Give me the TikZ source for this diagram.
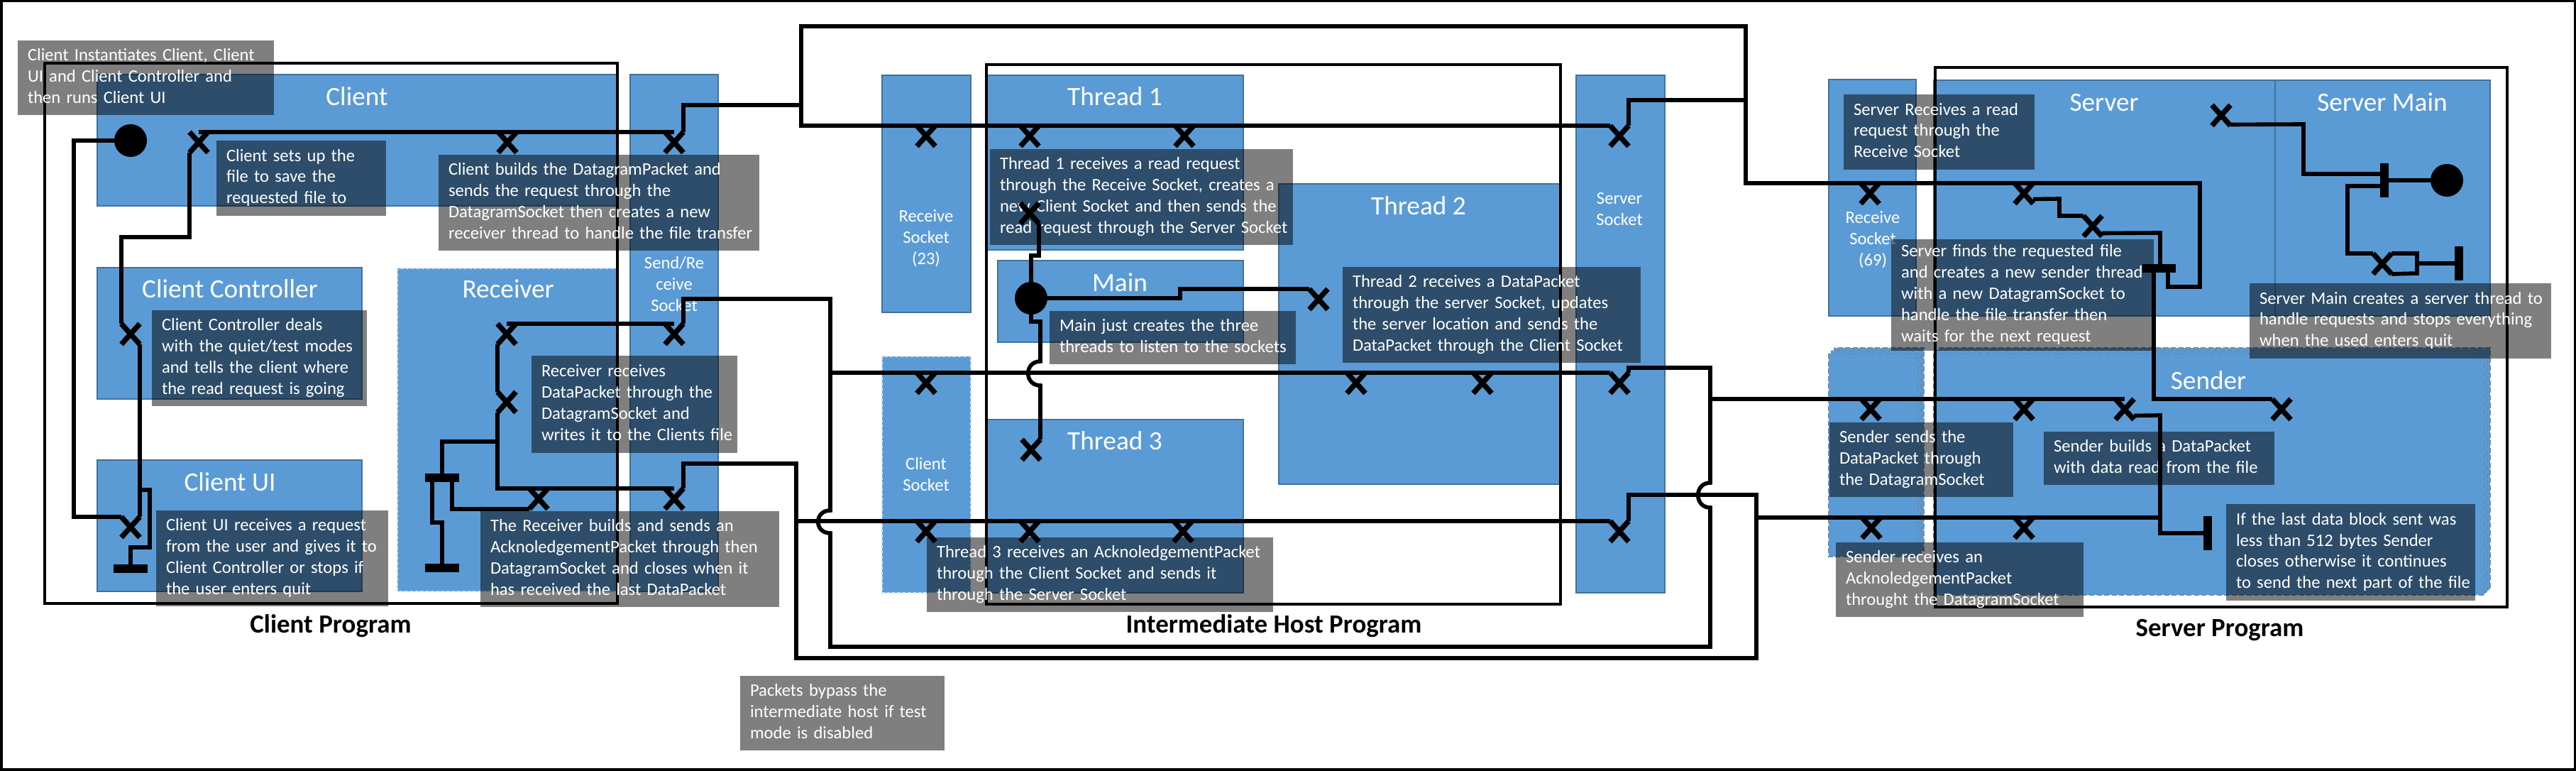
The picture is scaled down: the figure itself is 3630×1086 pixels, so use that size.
\documentclass[tikz,border=0pt]{standalone}
\usepackage{fontspec}
\setmainfont{Carlito}
\usetikzlibrary{calc}
\definecolor{boxblue}{HTML}{5B9BD5}
\definecolor{boxedge}{HTML}{41719C}
\newcommand\tlines[1]{\begin{tabular}{@{}l@{}}#1\end{tabular}}
\begin{document}
\begin{tikzpicture}[x=0.01cm,y=-0.01cm,
 bb/.style={fill=boxblue,draw=boxedge,line width=0.5pt},
 bbd/.style={fill=boxblue,draw=white!70!boxblue,line width=0.5pt,dash pattern=on 1.2pt off 0.9pt},
 bbs/.style={fill=boxblue,draw=boxedge!80!white,line width=0.5pt,dash pattern=on 2pt off 1pt},
 prog/.style={draw=black,line width=1pt},
 ttl/.style={text=white,font=\fontsize{10.6}{12}\selectfont,anchor=base,inner sep=0pt},
 sock/.style={text=white,font=\fontsize{7}{8.5}\selectfont,align=center,inner sep=0pt},
 plab/.style={font=\bfseries\fontsize{10.5}{12}\selectfont,anchor=base,inner sep=0pt},
 desc/.style={fill=black,fill opacity=0.5,text opacity=1,text=white,inner xsep=0.14cm,inner ysep=0pt,outer sep=0pt,anchor=north west,align=left,font=\fontsize{7}{8.5}\selectfont},
 db/.code 2 args={\pgfmathsetmacro\dbw{#1*0.01}\pgfmathsetmacro\dbt{(#1-28)*0.01}\pgfmathsetmacro\dbh{#2*0.01}\pgfkeysalso{minimum width=\dbw cm,text width=\dbt cm,minimum height=\dbh cm}},
 conn/.style={draw=black,line width=1.6pt},
 xs/.style={draw=black,line width=2.1pt},
 xm/.style={minimum width=0.26cm,minimum height=0.29cm,inner sep=0pt,outer sep=0pt,anchor=north,
   append after command={(\tikzlastnode.north west) edge[xs] (\tikzlastnode.south east) (\tikzlastnode.north east) edge[xs] (\tikzlastnode.south west)}},
 hbar/.style={fill=black,minimum width=0.47cm,minimum height=0.12cm,inner sep=0pt,outer sep=0pt},
 vbar/.style={fill=black,minimum width=0.12cm,minimum height=0.47cm,inner sep=0pt,outer sep=0pt},
 st/.style={circle,fill=black,minimum size=0.46cm,inner sep=0pt,outer sep=0pt}]
\useasboundingbox (0,0) rectangle (3630,1086);
\draw[line width=1pt] (1.75,1.75) rectangle (3628.25,1084.25);

% ---- blue boxes
\draw[bb] (137,105) rectangle (870,290);
\draw[bb] (137,377) rectangle (510,562);
\draw[bb] (137,648) rectangle (510,833);
\draw[bbd] (560,378) rectangle (870,833);
\draw[bb] (888,105) rectangle (1012,833);
\draw[bb] (1243,106) rectangle (1368,440);
\draw[bbd] (1243,502) rectangle (1368,835);
\draw[bb] (1390,106) rectangle (1752,352);
\draw[bb] (1406,367) rectangle (1752,482);
\draw[bb] (1802,259) rectangle (2198,682);
\draw[bb] (1390,591) rectangle (1752,835);
\draw[bb] (2221,106) rectangle (2346,835);
\draw[bb] (2577,112) rectangle (2700,445);
\draw[bb] (2725,113) rectangle (3509,445);
\draw[boxedge,line width=0.5pt] (3206,113) -- (3206,445);
\draw[bbs] (2585,490) rectangle (2711,776);
\draw[bbs] (2581,494) rectangle (2707,780);
\draw[bbs] (2577,498) rectangle (2703,784);
\draw[bbs] (2733,490) rectangle (3509,830);
\draw[bbs] (2729,494) rectangle (3505,834);
\draw[bbs] (2725,498) rectangle (3501,838);

% ---- titles
\node[ttl] (tclient) at (503,149) {Client};
\node[ttl] (tcc) at (324,420) {Client Controller};
\node[ttl] (tcui) at (324,692) {Client UI};
\node[ttl] (trecv) at (716,420) {Receiver};
\node[ttl] (tt1) at (1571,149) {Thread 1};
\node[ttl] (tmain) at (1578,411) {Main};
\node[ttl] (tt2) at (1999,303) {Thread 2};
\node[ttl] (tt3) at (1571,634) {Thread 3};
\node[ttl] (tserver) at (2965,157) {Server};
\node[ttl] (tsmain) at (3357,157) {Server Main};
\node[ttl] (tsender) at (3112,549) {Sender};
\node[sock] (lsr) at (950,400) {Send/Re\\ceive\\Socket};
\node[sock] (lrs23) at (1305,336) {Receive\\Socket\\(23)};
\node[sock] (lcs) at (1305,668) {Client\\Socket};
\node[sock] (lss) at (2282,295) {Server\\Socket};
\node[sock] (lrs69) at (2639,338) {Receive\\Socket\\(69)};

% ---- program outlines
\draw[prog] (63,89) rectangle (870,850);
\draw[prog] (1390,91) rectangle (2199,851);
\draw[prog] (2727,95) rectangle (3533,855);
\node[plab] (pc) at (466,892) {Client Program};
\node[plab] (pih) at (1795,892) {Intermediate Host Program};
\node[plab] (ps) at (3128,897) {Server Program};

% ---- description boxes
\node[desc,db={361}{105}] (nci) at (25,57) {\tlines{Client Instantiates Client, Client\\UI and Client Controller and\\then runs Client UI}};
\node[desc,db={239}{106}] (ncsu) at (305,198) {\tlines{Client sets up the\\file to save the\\requested file to}};
\node[desc,db={452}{135}] (ncb) at (618,218) {\tlines{Client builds the DatagramPacket and\\sends the request through the\\DatagramSocket then creates a new\\receiver thread to handle the file transfer}};
\node[desc,db={303}{135}] (ncc) at (214,437) {\tlines{Client Controller deals\\with the quiet/test modes\\and tells the client where\\the read request is going}};
\node[desc,db={327}{135}] (ncui) at (220,719) {\tlines{Client UI receives a request\\from the user and gives it to\\Client Controller or stops if\\the user enters quit}};
\node[desc,db={290}{137}] (nrr) at (749,501) {\tlines{Receiver receives\\DataPacket through the\\DatagramSocket and\\writes it to the Clients file}};
\node[desc,db={421}{135}] (nrb) at (677,720) {\tlines{The Receiver builds and sends an\\AcknoledgementPacket through then\\DatagramSocket and closes when it\\has received the last DataPacket}};
\node[desc,db={427}{135}] (nt1) at (1395,210) {\tlines{Thread 1 receives a read request\\through the Receive Socket, creates a\\new Client Socket and then sends the\\read request through the Server Socket}};
\node[desc,db={347}{75}] (nm) at (1479,438) {\tlines{Main just creates the three\\threads to listen to the sockets}};
\node[desc,db={420}{135}] (nt2) at (1892,376) {\tlines{Thread 2 receives a DataPacket\\through the server Socket, updates\\the server location and sends the\\DataPacket through the Client Socket}};
\node[desc,db={488}{105}] (nt3) at (1306,757) {\tlines{Thread 3 receives an AcknoledgementPacket\\through the Client Socket and sends it\\through the Server Socket}};
\node[desc,db={288}{105}] (npb) at (1043,952) {\tlines{Packets bypass the\\intermediate host if test\\mode is disabled}};
\node[desc,db={269}{106}] (nsr) at (2598,133) {\tlines{Server Receives a read\\request through the\\Receive Socket}};
\node[desc,db={370}{157}] (nsf) at (2665,337) {\tlines{Server finds the requested file\\and creates a new sender thread\\with a new DatagramSocket to\\handle the file transfer then\\waits for the next request}};
\node[desc,db={425}{106}] (nsm) at (3170,399) {\tlines{Server Main creates a server thread to\\handle requests and stops everything\\when the used enters quit}};
\node[desc,db={259}{105}] (nss) at (2578,595) {\tlines{Sender sends the\\DataPacket through\\the DatagramSocket}};
\node[desc,db={325}{75}] (nsb) at (2880,608) {\tlines{Sender builds a DataPacket\\with data read from the file}};
\node[desc,db={351}{136}] (nsl) at (3137,710) {\tlines{If the last data block sent was\\less than 512 bytes Sender\\closes otherwise it continues\\to send the next part of the file}};
\node[desc,db={349}{105}] (nsa) at (2587,764) {\tlines{Sender receives an\\AcknoledgementPacket\\throught the DatagramSocket}};

% ---- X marks, bars, start points
\node[xm] (xc1) at (280,186) {};
\node[xm] (xc2) at (715,186) {};
\node[xm] (xsr1) at (950,186) {};
\node[xm] (xcc) at (184,456) {};
\node[xm] (xcui) at (184,728) {};
\node[xm] (xr1) at (714,456) {};
\node[xm] (xsr2) at (950,456) {};
\node[xm] (xr2) at (714,552) {};
\node[xm] (xr3) at (759,688) {};
\node[xm] (xsr3) at (950,688) {};
\node[xm] (xrs23) at (1305,177) {};
\node[xm] (xt1a) at (1451,177) {};
\node[xm] (xt1b) at (1669,177) {};
\node[xm] (xt1c) at (1451,286) {};
\node[xm] (xss1) at (2282,177) {};
\node[xm] (xt2a) at (1858,407) {};
\node[xm] (xcs1) at (1305,525) {};
\node[xm] (xt2b) at (1911,525) {};
\node[xm] (xt2c) at (2089,525) {};
\node[xm] (xss2) at (2282,525) {};
\node[xm] (xt3a) at (1453,619) {};
\node[xm] (xcs2) at (1305,734) {};
\node[xm] (xt3b) at (1451,734) {};
\node[xm] (xt3c) at (1667,734) {};
\node[xm] (xss3) at (2282,734) {};
\node[xm] (xrs69) at (2635,258) {};
\node[xm] (xs1) at (2852,258) {};
\node[xm] (xs2) at (2949,304) {};
\node[xm] (xsm1) at (3130,148) {};
\node[xm] (xsm2) at (3357,357) {};
\node[xm] (xsd1) at (2636,562) {};
\node[xm] (xsd2) at (2852,562) {};
\node[xm] (xsd3) at (2994,562) {};
\node[xm] (xsst) at (3215,562) {};
\node[xm] (xsd4) at (2637,729) {};
\node[xm] (xsd5) at (2852,729) {};
\node[st] (cstart) at (184,198) {};
\node[hbar] (barcui) at (184,801) {};
\node[hbar] (barr1) at (623,673) {};
\node[hbar] (barr2) at (623,800) {};
\node[st] (mstart) at (1453,420) {};
\node[hbar] (bars) at (3042,378) {};
\node[vbar] (barsm) at (3360,254) {};
\node[st] (smstart) at (3448,254) {};
\node[vbar] (barend) at (3465,371) {};
\node[vbar] (barsd) at (3111,751) {};

% ---- connectors: client
\draw[conn] (cstart.west) -- (104,198) -- (104,728) -- (xcui.north west);
\draw[conn] (xc1.north) -- (xc2.north) -- (xsr1.north);
\draw[conn] (xc1.south west) -- (267,334) -- (171,334) -- (xcc.north west);
\draw[conn] (xcc.south east) -- (xcui.north east);
\coordinate (jcui) at (197,690);
\draw[conn] (jcui) -- (211,690) -- (211,771) -- (184,771) -- (barcui.north);
% receiver
\draw[conn] (xr1.north) -- (xsr2.north);
\draw[conn] (xr1.south west) -- (xr2.north west);
\draw[conn] (xr2.south west) |- (xr3.north) -- (xsr3.north);
\coordinate (jr) at (701,622);
\draw[conn] (jr) -| (barr1.north);
\draw[conn] ($(barr1.south)+(-14,0)$) -- ++(0,57) -- ++(14,0) -- (barr2.north);
\draw[conn] ($(barr1.south)+(14,0)$) |- (xr3.south west);
% data path (A)
\draw[conn] (xsr2.north east) -- (963,421) -- (1170,421) -- (1170,719) .. controls (1147,719) and (1147,751) .. (1170,751) -- (1170,911) -- (2410,911) -- (2410,715) .. controls (2387,715) and (2387,680) .. (2410,680) -- (2410,518) -- (2295,518) -- (xss2.north east);
\coordinate (ja1) at (1170,525);
\draw[conn] (ja1) -- (xcs1.north) -- (xt2b.north) -- (xt2c.north) -- (xss2.north west);
\coordinate (ja2) at (2410,562);
\draw[conn] (ja2) -- (xsd1.north) -- (xsd2.north) -- (xsd3.north);
% ack path (B)
\draw[conn] (xsr3.north east) -- (963,653) -- (1122,653) -- (1122,927) -- (2475,927) -- (2475,697) -- (2295,697) -- (xss3.north east);
\coordinate (jb1) at (1122,734);
\draw[conn] (jb1) -- (xcs2.north) -- (xt3b.north) -- (xt3c.north) -- (xss3.north west);
\coordinate (jb2) at (2475,729);
\draw[conn] (jb2) -- (xsd4.north) -- (xsd5.north) -- (3044,729);
% request path
\draw[conn] (xsr1.north east) -- (963,148) -- (1129,148) -- (1129,37) -- (2460,37) -- (2460,258) -- (xrs69.north) -- (xs1.north) -- (3100,258) -- (3100,404) -- (3055,404) -- ($(bars.south)+(13,0)$);
\coordinate (jt1) at (1129,148);
\draw[conn] (jt1) -- (1129,177) -- (xrs23.north) -- (xt1a.north) -- (xt1b.north) -- (xss1.north west);
\draw[conn] (xss1.north east) -- (2295,141) -- (2460,141);
% main
\draw[conn] (mstart.north) -- (1453,360) -- (1464,360) -- (xt1c.south east);
\draw[conn] (mstart.east) -- (1663,420) -- (1663,407) -- (xt2a.north west);
\draw[conn] (mstart.south) -- (1453,453) -- (1466,453) -- (1466,509) .. controls (1443,509) and (1443,543) .. (1466,543) -- (xt3a.north east);
% server
\draw[conn] ($(xs1.east)+(0,8)$) -- (2902,280) -- (2902,304) -- (xs2.north west);
\draw[conn] ($(xs2.east)+(0,10)$) -- (3044,328) -- ($(bars.north)+(2,0)$);
\draw[conn] ($(bars.south)+(-7,0)$) -- (3035,562) -- (xsst.north west);
% server main
\draw[conn] ($(xsm1.east)+(0,13)$) -- (3246,175) -- (3246,245) -- ($(barsm.west)+(0,-9)$);
\draw[conn] (smstart.west) -- (barsm.east);
\draw[conn] ($(barsm.west)+(0,8)$) -- (3308,262) -- (3308,357) -- (xsm2.north west);
\draw[conn] (xsm2.north east) -| (3406,385) -- (xsm2.south east);
\coordinate (jsm) at (3406,371);
\draw[conn] (jsm) -- (barend.west);
% sender
\draw[conn] ($(xsd3.east)+(0,9)$) -- (3044,585) -- (3044,751) -- (barsd.west);
\end{tikzpicture}
\end{document}
